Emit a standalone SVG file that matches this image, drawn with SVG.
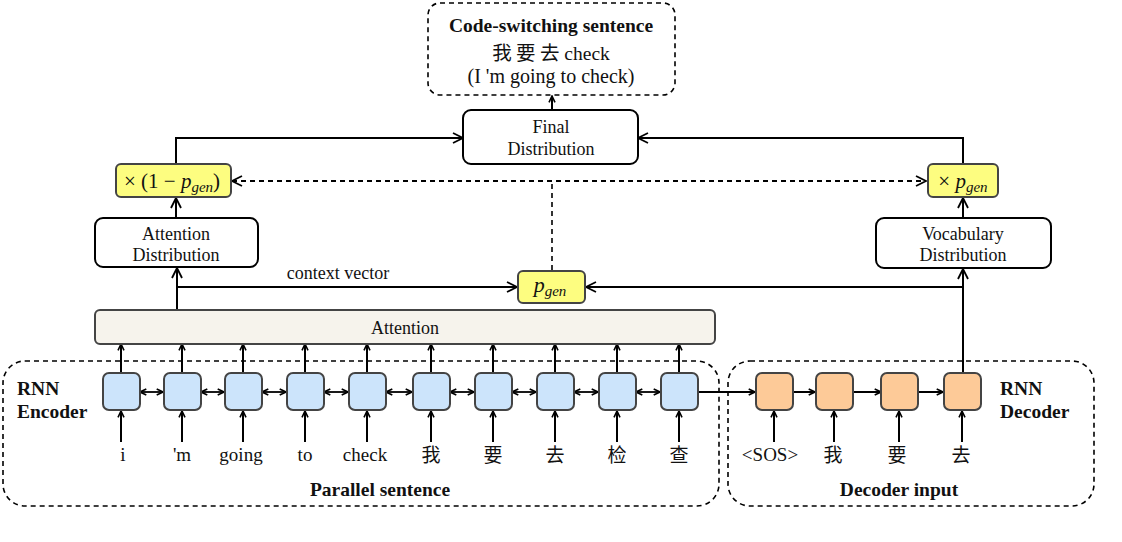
<svg xmlns="http://www.w3.org/2000/svg" width="1122" height="542" viewBox="0 0 1122 542">
<style>
  text { font-family: "Liberation Serif", "Times New Roman", "DejaVu Serif", serif; fill: #111; }
  .t17 { font-size: 18px; }
  .bold { font-weight: bold; font-size: 19.5px; }
  .word { font-size: 19px; }
  .box { fill: #fff; stroke: #000; stroke-width: 2; }
  .ybox { fill: #fdfd80; stroke: #444; stroke-width: 2; }
  .enc { fill: #cce4fb; stroke: #444; stroke-width: 2; }
  .dec { fill: #fdca98; stroke: #444; stroke-width: 2; }
  .att { fill: #f6f3ec; stroke: #444; stroke-width: 2; }
  .dash { fill: none; stroke: #000; stroke-width: 1.6; stroke-dasharray: 5 4; }
  .ln { fill: none; stroke: #000; stroke-width: 2; }
  .la { fill: none; stroke: #000; stroke-width: 2; marker-end: url(#a); }
  .ls { fill: none; stroke: #000; stroke-width: 2; marker-end: url(#s); }
  .lss { fill: none; stroke: #000; stroke-width: 1.8; marker-start: url(#s); marker-end: url(#s); }
  .dla { fill: none; stroke: #000; stroke-width: 1.8; stroke-dasharray: 5 4; marker-start: url(#a); marker-end: url(#a); }
  .cjk { font-family: "Noto Sans CJK SC", sans-serif; }
</style>
<defs>
  <marker id="a" viewBox="0 0 12 12" refX="11" refY="6" markerWidth="12" markerHeight="12" markerUnits="userSpaceOnUse" orient="auto-start-reverse">
    <path d="M1,1 L11,6 L1,11" fill="none" stroke="#000" stroke-width="1.8"/>
  </marker>
  <marker id="s" viewBox="0 0 8 8" refX="7.3" refY="4" markerWidth="8" markerHeight="8" markerUnits="userSpaceOnUse" orient="auto-start-reverse">
    <path d="M1,1 L7.3,4 L1,7" fill="none" stroke="#000" stroke-width="1.6"/>
  </marker>
</defs>

<!-- dashed containers -->
<g id="encoder-frame">
  <rect class="dash" x="3" y="361" width="716" height="145" rx="22"/>
  <text class="bold" x="17" y="395">RNN</text>
  <text class="bold" x="17" y="418">Encoder</text>
  <text class="bold" x="380" y="496" text-anchor="middle">Parallel sentence</text>
</g>
<g id="decoder-frame">
  <rect class="dash" x="728" y="361" width="366" height="145" rx="22"/>
  <text class="bold" x="1000" y="395">RNN</text>
  <text class="bold" x="1000" y="418">Decoder</text>
  <text class="bold" x="899" y="496" text-anchor="middle">Decoder input</text>
</g>

<!-- connectors -->
<g id="connectors">
  <line class="ls" x1="552" y1="110" x2="552" y2="96"/>
  <polyline class="la" points="176,164 176,138 463,138"/>
  <polyline class="la" points="963,164 963,138 638,138"/>
  <line class="dla" x1="232" y1="181" x2="926" y2="181"/>
  <line class="dash" x1="552" y1="270" x2="552" y2="181"/>
  <line class="la" x1="176" y1="218" x2="176" y2="198"/>
  <line class="la" x1="963" y1="218" x2="963" y2="198"/>
  <line class="la" x1="177" y1="310" x2="177" y2="268"/>
  <polyline class="la" points="177,287 517,287"/>
  <line class="la" x1="963" y1="373" x2="963" y2="269"/>
  <polyline class="la" points="963,287 586,287"/>

  <line class="ls" x1="121" y1="373" x2="121" y2="344"/>
  <line class="ls" x1="182" y1="373" x2="182" y2="344"/>
  <line class="ls" x1="243" y1="373" x2="243" y2="344"/>
  <line class="ls" x1="305" y1="373" x2="305" y2="344"/>
  <line class="ls" x1="367" y1="373" x2="367" y2="344"/>
  <line class="ls" x1="431" y1="373" x2="431" y2="344"/>
  <line class="ls" x1="493" y1="373" x2="493" y2="344"/>
  <line class="ls" x1="555" y1="373" x2="555" y2="344"/>
  <line class="ls" x1="617" y1="373" x2="617" y2="344"/>
  <line class="ls" x1="679" y1="373" x2="679" y2="344"/>

  <line class="ls" x1="121" y1="442" x2="121" y2="411"/>
  <line class="ls" x1="182" y1="442" x2="182" y2="411"/>
  <line class="ls" x1="243" y1="442" x2="243" y2="411"/>
  <line class="ls" x1="305" y1="442" x2="305" y2="411"/>
  <line class="ls" x1="367" y1="442" x2="367" y2="411"/>
  <line class="ls" x1="431" y1="442" x2="431" y2="411"/>
  <line class="ls" x1="493" y1="442" x2="493" y2="411"/>
  <line class="ls" x1="555" y1="442" x2="555" y2="411"/>
  <line class="ls" x1="617" y1="442" x2="617" y2="411"/>
  <line class="ls" x1="679" y1="442" x2="679" y2="411"/>

  <line class="lss" x1="140" y1="392" x2="163" y2="392"/>
  <line class="lss" x1="201" y1="392" x2="224" y2="392"/>
  <line class="lss" x1="262" y1="392" x2="286" y2="392"/>
  <line class="lss" x1="324" y1="392" x2="348" y2="392"/>
  <line class="lss" x1="386" y1="392" x2="412" y2="392"/>
  <line class="lss" x1="450" y1="392" x2="474" y2="392"/>
  <line class="lss" x1="512" y1="392" x2="536" y2="392"/>
  <line class="lss" x1="574" y1="392" x2="598" y2="392"/>
  <line class="lss" x1="636" y1="392" x2="660" y2="392"/>

  <line class="ls" x1="698" y1="392" x2="755" y2="392"/>
  <line class="ls" x1="793" y1="392" x2="815" y2="392"/>
  <line class="ls" x1="853" y1="392" x2="881" y2="392"/>
  <line class="ls" x1="918" y1="392" x2="943" y2="392"/>

  <line class="ls" x1="774" y1="442" x2="774" y2="411"/>
  <line class="ls" x1="834" y1="442" x2="834" y2="411"/>
  <line class="ls" x1="899" y1="442" x2="899" y2="411"/>
  <line class="ls" x1="962" y1="442" x2="962" y2="411"/>
</g>

<g id="output">
  <rect class="dash" x="428" y="3" width="247" height="92" rx="12"/>
  <text x="551" y="32" text-anchor="middle" style="font-weight:bold;font-size:19.5px">Code-switching sentence</text>
  <text x="551" y="60" text-anchor="middle" style="font-size:19.5px"><tspan class="cjk">我 要 去</tspan> check</text>
  <text x="551" y="83" text-anchor="middle" style="font-size:20px">(I 'm going to check)</text>
</g>

<g id="final">
  <rect class="box" x="463" y="110" width="175" height="54" rx="8"/>
  <text class="t17" x="551" y="133" text-anchor="middle">Final</text>
  <text class="t17" x="551" y="155" text-anchor="middle">Distribution</text>
</g>

<g id="mul-attn">
  <rect class="ybox" x="116" y="164" width="115" height="33" rx="5"/>
  <text x="172" y="188" text-anchor="middle" style="font-size:21px">× (1 − <tspan font-style="italic">p</tspan><tspan font-style="italic" font-size="15" dy="4">gen</tspan><tspan dy="-4">)</tspan></text>
</g>

<g id="mul-vocab">
  <rect class="ybox" x="928" y="164" width="70" height="33" rx="5"/>
  <text x="963" y="188" text-anchor="middle" style="font-size:21px">× <tspan font-style="italic">p</tspan><tspan font-style="italic" font-size="15" dy="4">gen</tspan></text>
</g>

<g id="attn-dist">
  <rect class="box" x="95" y="218" width="163" height="49" rx="8"/>
  <text class="t17" x="176" y="240" text-anchor="middle">Attention</text>
  <text class="t17" x="176" y="261" text-anchor="middle">Distribution</text>
</g>

<g id="vocab-dist">
  <rect class="box" x="876" y="218" width="175" height="50" rx="8"/>
  <text class="t17" x="963" y="240" text-anchor="middle">Vocabulary</text>
  <text class="t17" x="963" y="261" text-anchor="middle">Distribution</text>
</g>

<g id="context-label">
  <text class="t17" x="338" y="279" text-anchor="middle">context vector</text>
</g>

<g id="pgen">
  <rect class="ybox" x="518" y="271" width="67" height="32" rx="5"/>
  <text x="550" y="292" text-anchor="middle" style="font-size:22px"><tspan font-style="italic">p</tspan><tspan font-style="italic" font-size="15" dy="4">gen</tspan></text>
</g>

<g id="attention">
  <rect class="att" x="95" y="310" width="620" height="34" rx="5"/>
  <text class="t17" x="405" y="334" text-anchor="middle">Attention</text>
</g>

<g id="enc-cells">
  <rect class="enc" x="103" y="373" width="37" height="37" rx="6"/>
  <rect class="enc" x="164" y="373" width="37" height="37" rx="6"/>
  <rect class="enc" x="225" y="373" width="37" height="37" rx="6"/>
  <rect class="enc" x="287" y="373" width="37" height="37" rx="6"/>
  <rect class="enc" x="349" y="373" width="37" height="37" rx="6"/>
  <rect class="enc" x="413" y="373" width="37" height="37" rx="6"/>
  <rect class="enc" x="475" y="373" width="37" height="37" rx="6"/>
  <rect class="enc" x="537" y="373" width="37" height="37" rx="6"/>
  <rect class="enc" x="599" y="373" width="37" height="37" rx="6"/>
  <rect class="enc" x="661" y="373" width="37" height="37" rx="6"/>
</g>

<g id="enc-words">
  <text class="word" x="123" y="461" text-anchor="middle">i</text>
  <text class="word" x="182" y="461" text-anchor="middle">'m</text>
  <text class="word" x="241" y="461" text-anchor="middle">going</text>
  <text class="word" x="305" y="461" text-anchor="middle">to</text>
  <text class="word" x="365" y="461" text-anchor="middle">check</text>
  <text class="word cjk" x="431" y="462" text-anchor="middle">我</text>
  <text class="word cjk" x="493" y="462" text-anchor="middle">要</text>
  <text class="word cjk" x="555" y="462" text-anchor="middle">去</text>
  <text class="word cjk" x="617" y="462" text-anchor="middle">检</text>
  <text class="word cjk" x="679" y="462" text-anchor="middle">查</text>
</g>

<g id="dec-cells">
  <rect class="dec" x="756" y="373" width="37" height="37" rx="6"/>
  <rect class="dec" x="816" y="373" width="37" height="37" rx="6"/>
  <rect class="dec" x="881" y="373" width="37" height="37" rx="6"/>
  <rect class="dec" x="944" y="373" width="37" height="37" rx="6"/>
</g>

<g id="dec-words">
  <text class="word" x="770" y="461" text-anchor="middle">&lt;SOS&gt;</text>
  <text class="word cjk" x="833" y="462" text-anchor="middle">我</text>
  <text class="word cjk" x="897" y="462" text-anchor="middle">要</text>
  <text class="word cjk" x="961" y="462" text-anchor="middle">去</text>
</g>
</svg>
